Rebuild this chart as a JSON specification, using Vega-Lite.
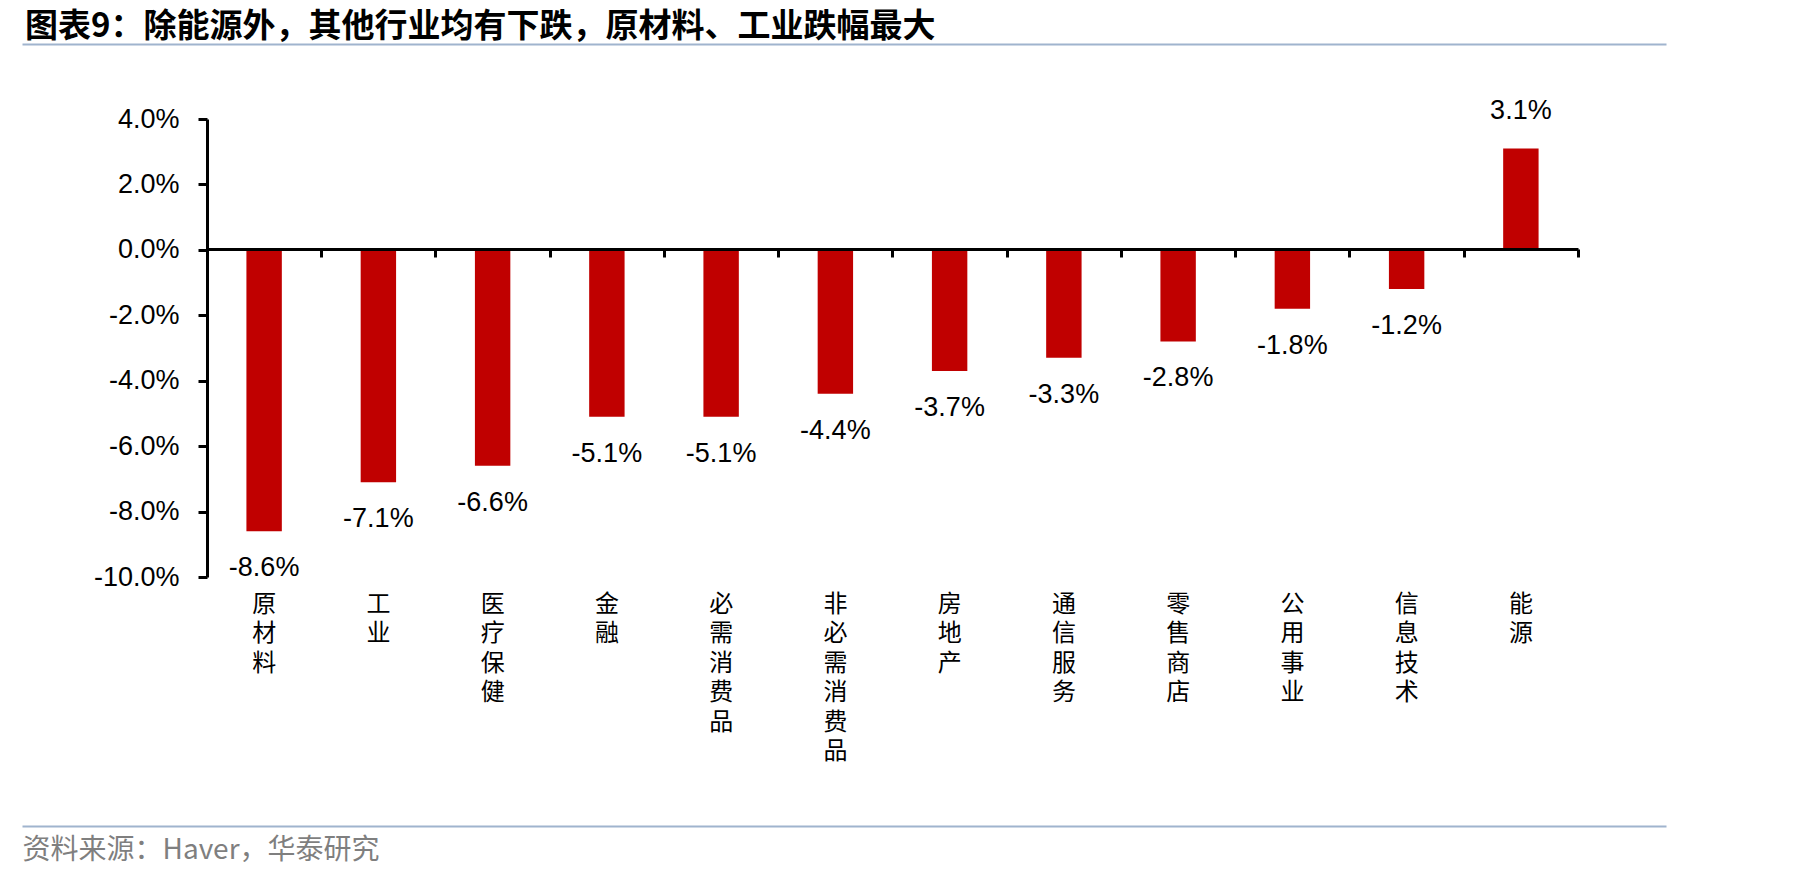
{
  "$schema": "https://vega.github.io/schema/vega-lite/v6.json",
  "width": 1644,
  "height": 458,
  "autosize": {"type": "none"},
  "padding": {"left": 22, "top": 119, "right": 153, "bottom": 304},
  "background": "white",
  "config": {
    "view": {"stroke": null},
    "locale": {"number": {"decimal": ".", "thousands": ",", "grouping": [3], "currency": ["$", ""], "minus": "-"}}
  },
  "title": {
    "text": "图表9：除能源外，其他行业均有下跌，原材料、工业跌幅最大",
    "anchor": "start",
    "frame": "group",
    "font": "Noto Sans CJK SC",
    "fontSize": 33,
    "fontWeight": "bold",
    "color": "#000000",
    "dx": 3,
    "offset": 0
  },
  "datasets": {
    "d": [
      {"sector": "原材料", "value": -0.086},
      {"sector": "工业", "value": -0.071},
      {"sector": "医疗保健", "value": -0.066},
      {"sector": "金融", "value": -0.051},
      {"sector": "必需消费品", "value": -0.051},
      {"sector": "非必需消费品", "value": -0.044},
      {"sector": "房地产", "value": -0.037},
      {"sector": "通信服务", "value": -0.033},
      {"sector": "零售商店", "value": -0.028},
      {"sector": "公用事业", "value": -0.018},
      {"sector": "信息技术", "value": -0.012},
      {"sector": "能源", "value": 0.031}
    ]
  },
  "layer": [
    {
      "data": {"name": "d"},
      "layer": [
        {
          "mark": {"type": "bar", "color": "#C00000"},
          "encoding": {
            "x": {
              "field": "sector",
              "type": "nominal",
              "sort": null,
              "scale": {
                "domain": ["原材料", "工业", "医疗保健", "金融", "必需消费品", "非必需消费品", "房地产", "通信服务", "零售商店", "公用事业", "信息技术", "能源"],
                "range": [185, 1556],
                "paddingInner": 0.69,
                "paddingOuter": 0.345
              },
              "axis": {
                "orient": "bottom",
                "domain": false,
                "ticks": false,
                "grid": false,
                "labelAngle": 0,
                "labelExpr": "split(datum.label, '')",
                "labelFont": "Noto Sans CJK SC",
                "labelFontSize": 24,
                "labelLineHeight": 29.5,
                "labelBaseline": "top",
                "labelPadding": 15,
                "labelColor": "#000000",
                "title": null
              }
            },
            "y": {
              "field": "value",
              "type": "quantitative",
              "scale": {"domain": [-0.1, 0.04], "nice": false, "zero": false},
              "axis": {
                "orient": "left",
                "offset": -185,
                "values": [-0.1, -0.08, -0.06, -0.04, -0.02, 0, 0.02, 0.04],
                "format": ".1%",
                "grid": false,
                "zindex": 1,
                "domainColor": "#000000",
                "domainWidth": 3,
                "tickColor": "#000000",
                "tickWidth": 3,
                "tickSize": 9,
                "labelPadding": 19,
                "labelFont": "Liberation Sans",
                "labelFontSize": 27,
                "labelColor": "#000000",
                "title": null
              }
            }
          }
        },
        {
          "transform": [{"filter": "datum.value < 0"}],
          "mark": {"type": "text", "dy": 37, "font": "Liberation Sans", "fontSize": 27, "color": "#000000", "baseline": "middle"},
          "encoding": {
            "x": {
              "field": "sector",
              "type": "nominal",
              "sort": null,
              "axis": {
                "orient": "bottom",
                "offset": -328,
                "labels": false,
                "domain": true,
                "domainColor": "#000000",
                "domainWidth": 3,
                "ticks": true,
                "tickBand": "center",
                "tickOffset": 57.1,
                "tickColor": "#000000",
                "tickWidth": 3,
                "tickSize": 8,
                "grid": false,
                "zindex": 1,
                "title": null
              }
            },
            "y": {"field": "value", "type": "quantitative"},
            "text": {"field": "value", "type": "quantitative", "format": ".1%"}
          }
        },
        {
          "transform": [{"filter": "datum.value >= 0"}],
          "mark": {"type": "text", "dy": -37, "font": "Liberation Sans", "fontSize": 27, "color": "#000000", "baseline": "middle"},
          "encoding": {
            "x": {"field": "sector", "type": "nominal", "sort": null, "axis": null},
            "y": {"field": "value", "type": "quantitative"},
            "text": {"field": "value", "type": "quantitative", "format": ".1%"}
          }
        }
      ],
      "resolve": {"axis": {"x": "independent"}}
    },
    {
      "data": {"values": [{"v": 0}]},
      "mark": {"type": "point", "opacity": 0},
      "encoding": {
        "x": {
          "field": "v",
          "type": "quantitative",
          "scale": {"domain": [0, 1]},
          "axis": {
            "orient": "top",
            "offset": 75,
            "labels": false,
            "ticks": false,
            "grid": false,
            "domainColor": "#A0B4CE",
            "domainWidth": 2,
            "title": null
          }
        }
      }
    },
    {
      "data": {"values": [{"v": 0}]},
      "mark": {"type": "point", "opacity": 0},
      "encoding": {
        "x": {
          "field": "v",
          "type": "quantitative",
          "scale": {"domain": [0, 1]},
          "axis": {
            "orient": "bottom",
            "offset": 249,
            "labels": false,
            "ticks": false,
            "grid": false,
            "domainColor": "#A0B4CE",
            "domainWidth": 2,
            "title": "资料来源：Haver，华泰研究",
            "titleAnchor": "start",
            "titleAlign": "left",
            "titleFont": "Noto Sans CJK SC",
            "titleFontSize": 28,
            "titleFontWeight": "normal",
            "titleColor": "#7F7F7F",
            "titlePadding": 10
          }
        }
      }
    }
  ],
  "resolve": {"scale": {"x": "independent"}, "axis": {"x": "independent"}}
}
